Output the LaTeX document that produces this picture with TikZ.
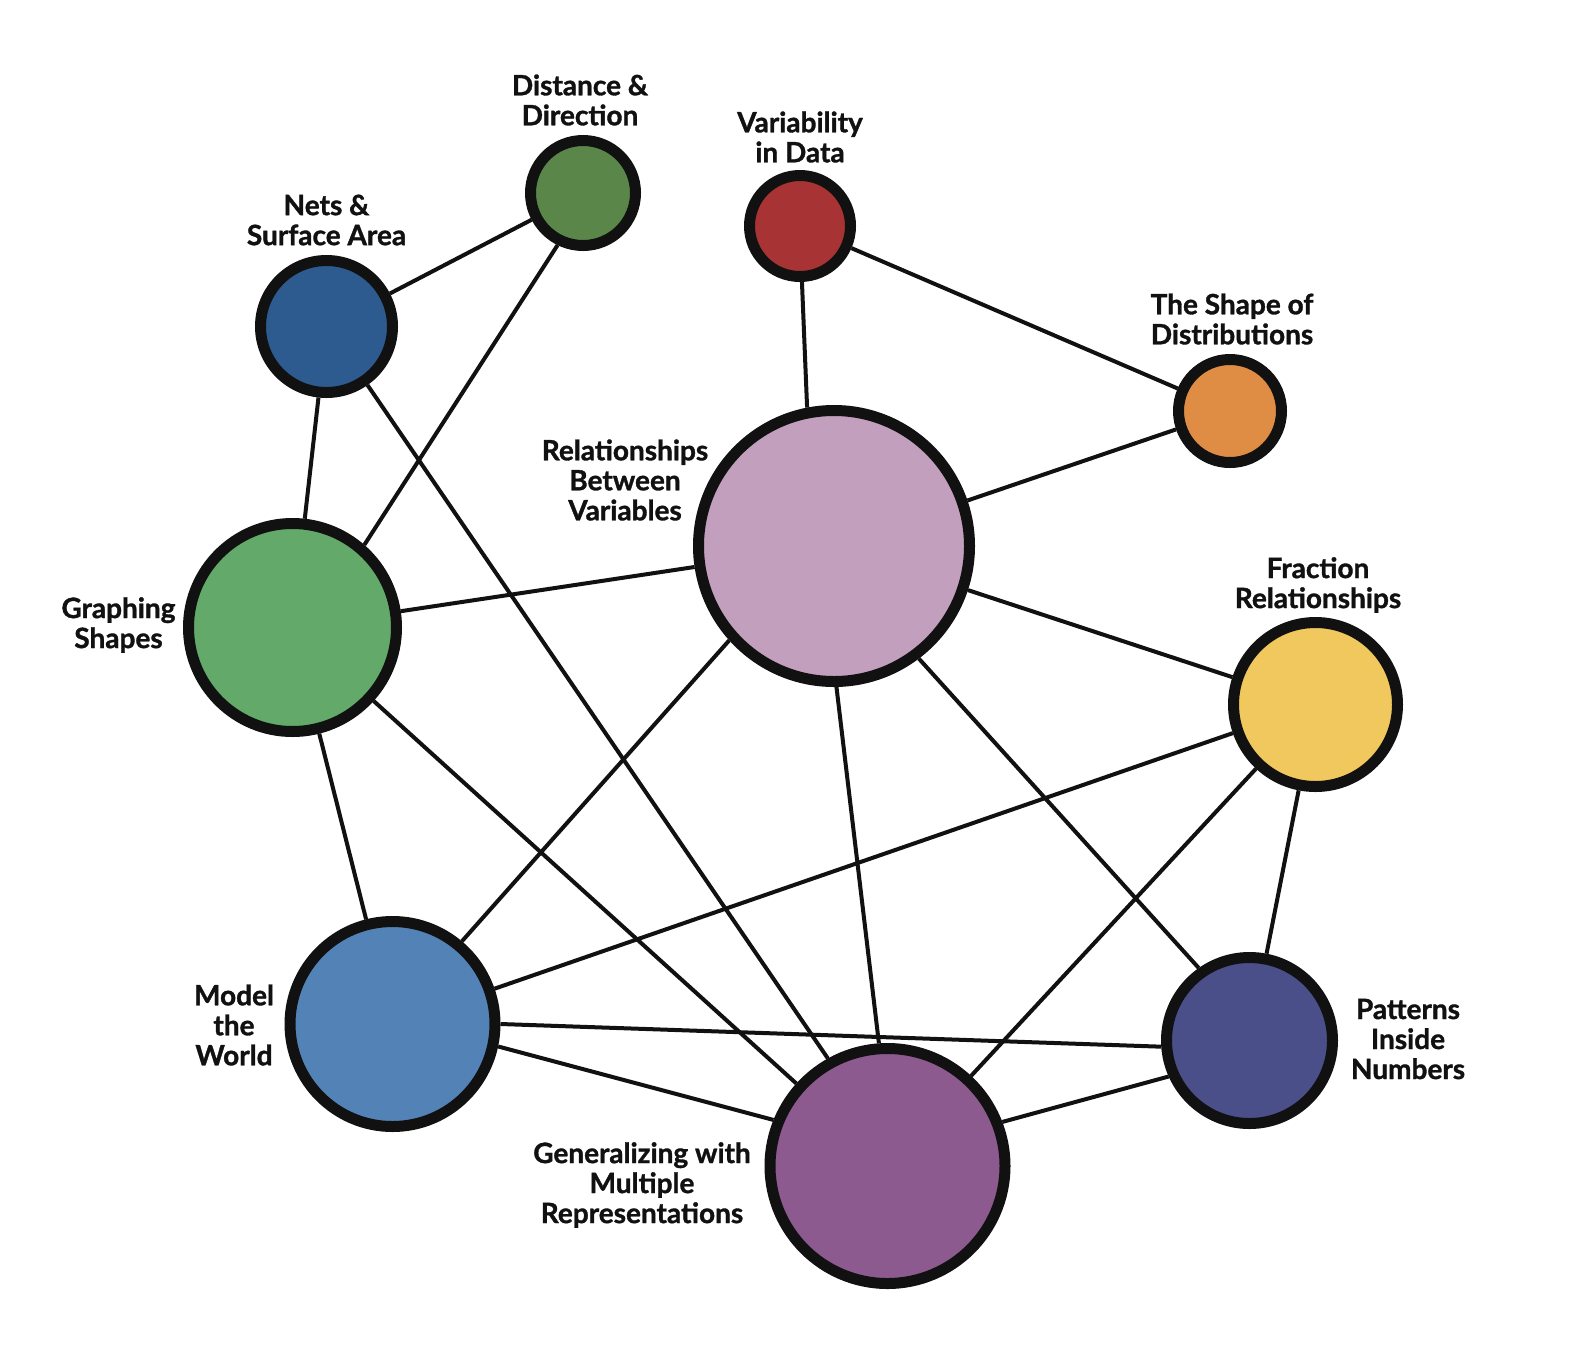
\documentclass[tikz,border=0pt]{standalone}
\usepackage{fontspec}
\setmainfont{Lato}[BoldFeatures={FakeBold=1.2}]
\definecolor{ink}{HTML}{111111}
\definecolor{cdist}{HTML}{5A8749}
\definecolor{cnets}{HTML}{2D5B8F}
\definecolor{cvar}{HTML}{A83334}
\definecolor{cshape}{HTML}{DF8C45}
\definecolor{crel}{HTML}{C29FBD}
\definecolor{cgraph}{HTML}{62A96A}
\definecolor{cfrac}{HTML}{F0C85D}
\definecolor{cmodel}{HTML}{5383B6}
\definecolor{cpat}{HTML}{4A4F8A}
\definecolor{cgen}{HTML}{8C5A8E}
\begin{document}
\begin{tikzpicture}[x=1pt,y=-1pt,
  topic/.style={circle, draw=ink, line width=11pt, inner sep=0pt},
  lbl/.style={align=center, font=\fontsize{28}{30}\selectfont\bfseries, text=ink, inner sep=0pt},
  link/.style={draw=ink, line width=4pt}]
\useasboundingbox[fill=white] (0,0) rectangle (1585,1350);
% topics
\node[topic, fill=cdist,  minimum size=105pt] (dist)  at (583,193) {};
\node[topic, fill=cnets,  minimum size=132pt] (nets)  at (326.5,326.5) {};
\node[topic, fill=cvar,   minimum size=101pt] (var)   at (800,226) {};
\node[topic, fill=cshape, minimum size=103pt] (shape) at (1230,411) {};
\node[topic, fill=crel,   minimum size=271pt] (rel)   at (834,546) {};
\node[topic, fill=cgraph, minimum size=208pt] (graph) at (292.5,627.5) {};
\node[topic, fill=cfrac,  minimum size=164pt] (frac)  at (1315.5,704.5) {};
\node[topic, fill=cmodel, minimum size=205pt] (model) at (392.5,1024) {};
\node[topic, fill=cpat,   minimum size=166pt] (pat)   at (1249.5,1040.5) {};
\node[topic, fill=cgen,   minimum size=235pt] (gen)   at (887.5,1166) {};
% labels
\node[lbl] (ldist)  at (580,100)    {Distance \&\\Direction};
\node[lbl] (lnets)  at (326.5,220)  {Nets \&\\Surface Area};
\node[lbl] (lvar)   at (800,137)    {Variability\\in Data};
\node[lbl] (lshape) at (1232,319)   {The Shape of\\Distributions};
\node[lbl] (lrel)   at (625,480)    {Relationships\\Between\\Variables};
\node[lbl] (lgraph) at (118.5,625)  {Graphing\\Shapes};
\node[lbl] (lfrac)  at (1318,585)   {Fraction\\Relationships};
\node[lbl] (lmodel) at (234,1025)   {Model\\the\\World};
\node[lbl] (lpat)   at (1408,1039)  {Patterns\\Inside\\Numbers};
\node[lbl] (lgen)   at (642,1185)   {Generalizing with\\Multiple\\Representations};
% links
\draw[link] (nets) -- (dist);
\draw[link] (dist.-116) -- (graph.49);
\draw[link] (nets) -- (graph);
\draw[link] (nets.-55) -- (gen.119);
\draw[link] (var.-88) -- (rel.101);
\draw[link] (var) -- (shape);
\draw[link] (shape) -- (rel);
\draw[link] (graph) -- (rel);
\draw[link] (graph) -- (model);
\draw[link] (graph) -- (gen);
\draw[link] (rel.222) -- (model.50);
\draw[link] (rel.-89) -- (gen.94);
\draw[link] (rel.-53) -- (pat.125);
\draw[link] (rel) -- (frac);
\draw[link] (frac) -- (model);
\draw[link] (frac) -- (gen);
\draw[link] (frac) -- (pat);
\draw[link] (model.0) -- (pat.184);
\draw[link] (model.-12) -- (gen.158);
\draw[link] (gen.21) -- (pat.204);
\end{tikzpicture}
\end{document}
